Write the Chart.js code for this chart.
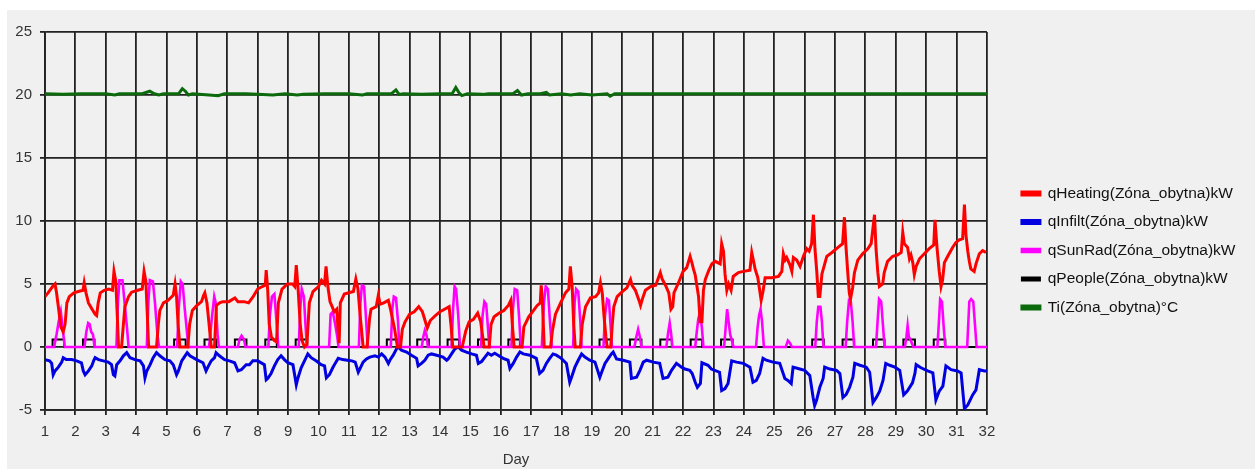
<!DOCTYPE html>
<html>
<head>
<meta charset="utf-8">
<script src="https://cdn.jsdelivr.net/npm/chart.js@4.4.1/dist/chart.umd.min.js"></script>
<style>
  html, body { margin: 0; padding: 0; background: #ffffff; }
  #wrap { position: relative; width: 1258px; height: 469px; overflow: hidden; }
  #panel { position: absolute; left: 7px; top: 10px; width: 1248px; height: 459px; background: #f0f0f0; }
  #c { position: absolute; left: 0; top: 0; }
</style>
</head>
<body>
<div id="wrap">
  <div id="panel"></div>
  <canvas id="c" width="1258" height="469"></canvas>
</div>
<script>
// Zone "obytna" – hourly simulation over one month, values as [day, value]
const seriesNames = [
  'qHeating(Zóna_obytna)kW',
  'qInfilt(Zóna_obytna)kW',
  'qSunRad(Zóna_obytna)kW',
  'qPeople(Zóna_obytna)kW',
  'Ti(Zóna_obytna)°C'
];

const dayTicks = [1, 32];          // day axis range
const valueTicks = [-5, 25, 5];    // value axis min, max, step

const qHeating = [
  [1.00,4.0],[1.10,4.3],[1.25,4.8],[1.33,5.0],[1.38,4.3],[1.45,3.0],[1.52,1.6],[1.60,1.2],[1.66,1.8],[1.72,3.5],
  [1.80,4.0],[1.95,4.3],[2.10,4.4],[2.25,4.5],[2.29,5.1],[2.35,4.3],[2.43,3.5],[2.55,3.0],[2.65,2.6],[2.70,2.5],
  [2.75,3.5],[2.82,4.3],[2.95,4.5],[3.10,4.6],[3.22,4.5],[3.27,6.0],[3.33,5.2],[3.38,2.4],[3.42,0],[3.52,0],
  [3.58,1.8],[3.63,3.2],[3.75,4.0],[3.85,4.35],[4.05,4.5],[4.20,4.6],[4.26,6.0],[4.32,5.2],[4.37,2.4],[4.41,0],
  [4.67,0],[4.73,1.8],[4.78,2.9],[4.90,3.5],[5.05,3.7],[5.22,4.1],[5.28,5.0],[5.33,4.0],[5.38,1.8],[5.44,0],
  [5.70,0],[5.76,1.8],[5.85,2.9],[6.00,3.3],[6.15,3.6],[6.22,4.1],[6.26,4.3],[6.33,3.5],[6.40,1.8],[6.47,0],
  [6.58,0],[6.64,3.3],[6.75,3.5],[6.85,3.6],[7.05,3.6],[7.25,3.9],[7.35,3.6],[7.55,3.6],[7.70,3.5],[7.85,4.0],
  [8.00,4.6],[8.15,4.8],[8.25,4.9],[8.28,6.1],[8.33,4.5],[8.38,1.8],[8.45,0.8],[8.55,0.5],[8.62,0.4],[8.68,3.5],
  [8.80,4.6],[8.98,5.0],[9.15,5.0],[9.22,4.8],[9.27,6.5],[9.33,4.6],[9.40,1.8],[9.46,0.5],[9.54,0],[9.62,0.2],
  [9.70,3.5],[9.82,4.4],[10.0,4.8],[10.1,5.3],[10.2,5.0],[10.25,6.4],[10.31,4.8],[10.38,3.6],[10.45,3.2],[10.52,2.8],
  [10.6,3.0],[10.64,1.6],[10.68,0.3],[10.72,3.5],[10.85,4.2],[11.0,4.3],[11.15,4.4],[11.23,5.4],[11.3,4.6],[11.38,2.3],
  [11.47,0],[11.6,0],[11.68,2.2],[11.73,3.0],[11.9,3.2],[11.97,4.1],[12.03,3.4],[12.15,3.5],[12.3,3.7],[12.38,2.9],
  [12.5,1.5],[12.6,0],[12.7,0],[12.76,1.4],[12.85,2.0],[13.0,2.6],[13.15,2.8],[13.3,3.2],[13.42,2.8],[13.52,2.0],
  [13.58,1.5],[13.68,2.1],[13.85,2.5],[14.0,2.8],[14.15,3.0],[14.3,3.2],[14.36,1.8],[14.42,0],[14.73,0],[14.85,1.3],
  [14.96,2.0],[15.1,2.2],[15.24,2.7],[15.34,2.0],[15.45,0],[15.62,0],[15.68,1.8],[15.78,2.4],[15.95,2.7],[16.1,2.9],
  [16.25,3.3],[16.33,3.7],[16.38,1.8],[16.44,0],[16.7,0],[16.76,1.6],[16.92,2.4],[17.08,2.9],[17.2,3.3],[17.3,3.5],
  [17.33,4.9],[17.37,3.7],[17.4,1.8],[17.43,0],[17.64,0],[17.7,1.3],[17.8,2.6],[17.97,3.5],[18.13,4.3],[18.24,4.6],
  [18.29,6.4],[18.35,4.8],[18.4,1.8],[18.45,0],[18.62,0],[18.68,1.8],[18.79,3.2],[18.95,3.9],[19.12,4.0],[19.22,4.3],
  [19.28,5.1],[19.34,4.3],[19.4,2.4],[19.46,0.8],[19.5,0],[19.62,0],[19.67,1.8],[19.72,3.2],[19.83,4.0],[20.0,4.4],
  [20.15,4.7],[20.27,5.35],[20.32,4.9],[20.43,4.5],[20.55,3.7],[20.6,3.3],[20.66,3.8],[20.76,4.5],[20.93,4.8],[21.1,4.9],
  [21.25,5.9],[21.31,5.4],[21.42,4.9],[21.53,4.3],[21.6,3.0],[21.66,3.2],[21.7,4.3],[21.85,5.1],[22.0,6.0],[22.12,6.3],
  [22.23,7.2],[22.29,6.7],[22.34,6.2],[22.4,5.7],[22.51,4.0],[22.56,2.0],[22.62,2.0],[22.67,4.5],[22.73,5.35],[22.84,6.05],
  [22.95,6.6],[23.06,6.8],[23.22,6.6],[23.27,8.2],[23.33,7.6],[23.38,5.8],[23.44,4.5],[23.5,5.0],[23.58,4.5],[23.65,5.6],
  [23.82,5.9],[23.99,6.0],[24.2,6.1],[24.26,7.5],[24.32,6.8],[24.37,6.2],[24.46,5.5],[24.57,3.7],[24.63,4.4],[24.7,5.5],
  [24.92,5.5],[25.14,5.6],[25.25,6.0],[25.3,7.4],[25.36,6.9],[25.41,7.1],[25.52,6.5],[25.58,6.0],[25.63,7.1],[25.74,6.9],
  [25.85,6.4],[25.96,7.2],[26.07,7.8],[26.15,7.6],[26.23,8.2],[26.29,10.5],[26.34,7.8],[26.4,6.0],[26.45,4.0],[26.5,4.0],
  [26.57,5.8],[26.73,7.2],[26.9,7.5],[27.1,7.9],[27.25,8.2],[27.31,10.3],[27.36,8.0],[27.42,5.9],[27.47,4.3],[27.51,3.8],
  [27.58,4.7],[27.64,5.9],[27.75,6.9],[27.91,7.4],[28.08,7.8],[28.19,8.2],[28.3,10.5],[28.35,7.8],[28.41,5.9],[28.46,4.8],
  [28.57,5.0],[28.62,5.9],[28.73,6.8],[28.9,7.2],[29.05,7.3],[29.18,7.5],[29.23,9.1],[29.28,8.2],[29.39,7.9],[29.45,7.0],
  [29.5,7.3],[29.56,6.7],[29.61,5.75],[29.67,6.4],[29.78,7.0],[29.94,7.4],[30.1,7.8],[30.25,8.1],[30.29,10.1],[30.36,7.8],
  [30.43,6.0],[30.49,4.8],[30.54,5.3],[30.6,6.7],[30.71,7.2],[30.87,7.9],[30.98,8.3],[31.09,8.5],[31.2,8.6],[31.26,11.3],
  [31.31,8.9],[31.37,7.6],[31.42,6.8],[31.47,6.2],[31.58,6.0],[31.64,6.6],[31.75,7.4],[31.86,7.65],[31.97,7.5],[32.0,7.5]
];

const qInfilt = [
  [1.0,-1.0],[1.15,-1.1],[1.22,-1.3],[1.27,-2.2],[1.33,-1.9],[1.44,-1.6],[1.55,-1.2],[1.6,-0.85],[1.7,-1.0],[1.88,-1.0],
  [2.04,-1.1],[2.2,-1.25],[2.26,-1.9],[2.32,-2.2],[2.43,-1.9],[2.54,-1.5],[2.6,-1.1],[2.65,-0.85],[2.76,-1.0],[2.92,-1.1],
  [3.08,-1.2],[3.19,-1.4],[3.25,-2.2],[3.3,-2.3],[3.36,-1.4],[3.47,-1.1],[3.58,-0.7],[3.69,-0.45],[3.8,-0.85],[3.96,-1.0],
  [4.13,-1.1],[4.24,-1.5],[4.29,-2.45],[4.35,-1.9],[4.46,-1.4],[4.56,-0.85],[4.67,-0.45],[4.78,-0.7],[4.95,-1.0],[5.11,-1.1],
  [5.22,-1.4],[5.33,-2.2],[5.39,-1.9],[5.5,-1.1],[5.61,-0.7],[5.68,-0.45],[5.77,-0.7],[5.99,-1.0],[6.2,-1.25],[6.3,-1.9],
  [6.36,-1.6],[6.47,-1.1],[6.58,-0.85],[6.63,-0.45],[6.74,-0.7],[6.91,-1.0],[7.07,-1.1],[7.24,-1.25],[7.35,-1.9],[7.46,-1.8],
  [7.62,-1.4],[7.73,-1.4],[7.84,-1.1],[8.0,-1.1],[8.22,-1.4],[8.28,-2.6],[8.33,-2.5],[8.44,-2.1],[8.55,-1.5],[8.66,-1.0],
  [8.77,-0.7],[8.88,-1.0],[8.99,-1.25],[9.16,-1.4],[9.27,-3.0],[9.32,-2.5],[9.43,-1.65],[9.54,-1.1],[9.65,-0.55],[9.76,-0.85],
  [9.92,-1.1],[10.09,-1.4],[10.2,-1.5],[10.26,-2.45],[10.36,-2.2],[10.47,-1.65],[10.55,-1.3],[10.65,-0.9],[10.8,-1.0],[10.95,-1.05],
  [11.1,-1.1],[11.21,-1.2],[11.31,-2.0],[11.36,-1.75],[11.47,-1.2],[11.58,-0.95],[11.69,-0.8],[11.86,-0.7],[11.97,-0.8],[12.08,-0.55],
  [12.19,-0.8],[12.3,-1.3],[12.35,-1.05],[12.46,-0.65],[12.57,-0.15],[12.62,0],[12.73,-0.25],[12.9,-0.4],[13.06,-0.65],[13.23,-0.9],
  [13.28,-1.5],[13.39,-1.3],[13.5,-1.05],[13.61,-0.65],[13.72,-0.55],[13.89,-0.65],[14.1,-0.8],[14.22,-1.05],[14.27,-0.95],[14.38,-0.55],
  [14.49,-0.15],[14.6,0],[14.71,-0.25],[14.87,-0.4],[15.04,-0.55],[15.2,-0.65],[15.26,-1.3],[15.37,-1.15],[15.48,-0.8],[15.58,-0.5],
  [15.69,-0.65],[15.8,-0.5],[15.91,-0.65],[16.08,-0.9],[16.24,-1.05],[16.3,-1.7],[16.41,-1.3],[16.52,-0.8],[16.63,-0.4],[16.74,-0.55],
  [16.96,-0.65],[17.17,-0.9],[17.28,-2.1],[17.39,-1.85],[17.5,-1.3],[17.61,-0.9],[17.72,-0.55],[17.83,-0.65],[17.99,-0.9],[18.16,-1.3],
  [18.27,-2.8],[18.33,-2.4],[18.44,-1.6],[18.55,-1.05],[18.66,-0.55],[18.77,-0.8],[18.93,-1.05],[19.1,-1.2],[19.26,-2.4],[19.32,-2.0],
  [19.43,-1.3],[19.53,-0.95],[19.64,-0.55],[19.7,-0.4],[19.81,-0.95],[20.03,-1.05],[20.25,-1.2],[20.3,-2.5],[20.47,-2.4],[20.58,-1.85],
  [20.69,-1.2],[20.8,-1.05],[21.02,-1.2],[21.23,-1.3],[21.34,-2.5],[21.5,-2.4],[21.62,-1.85],[21.78,-1.3],[21.95,-1.6],[22.06,-1.75],
  [22.22,-1.85],[22.3,-2.1],[22.4,-2.8],[22.47,-3.2],[22.57,-2.9],[22.62,-1.25],[22.82,-1.45],[22.93,-1.75],[23.04,-1.85],[23.2,-2.0],
  [23.27,-3.45],[23.38,-3.3],[23.48,-2.9],[23.6,-1.1],[23.76,-1.2],[23.98,-1.3],[24.2,-1.6],[24.3,-2.8],[24.41,-2.65],[24.52,-2.1],
  [24.63,-0.9],[24.74,-1.05],[24.96,-1.2],[25.18,-1.3],[25.35,-2.5],[25.45,-2.65],[25.56,-2.9],[25.62,-1.6],[25.84,-1.75],[26.0,-1.85],
  [26.17,-2.25],[26.28,-4.0],[26.33,-4.65],[26.39,-4.25],[26.5,-3.2],[26.61,-2.5],[26.66,-1.6],[26.83,-1.75],[27.05,-1.85],[27.16,-2.1],
  [27.26,-4.0],[27.37,-3.75],[27.48,-3.2],[27.59,-2.4],[27.65,-1.3],[27.82,-1.45],[28.03,-1.6],[28.14,-2.0],[28.25,-4.4],[28.36,-4.0],
  [28.47,-3.5],[28.58,-2.65],[28.67,-1.3],[28.8,-1.45],[28.97,-1.6],[29.13,-1.85],[29.26,-3.8],[29.38,-3.5],[29.55,-2.85],[29.63,-2.1],
  [29.67,-1.4],[29.83,-1.65],[30.05,-1.9],[30.22,-2.05],[30.32,-4.2],[30.43,-3.5],[30.55,-3.1],[30.65,-1.5],[30.82,-1.8],[31.03,-1.9],
  [31.15,-2.05],[31.26,-4.9],[31.37,-4.6],[31.53,-3.8],[31.64,-3.4],[31.75,-1.8],[31.92,-1.9],[32.0,-1.9]
];

const qSunRad = [
  [1,0],[1.3,0],[1.38,1.0],[1.45,2.0],[1.52,2.8],[1.58,1.5],[1.65,0],
  [2.3,0],[2.36,1.2],[2.42,1.9],[2.47,1.8],[2.52,1.2],[2.58,1.0],[2.63,0],
  [3.35,0],[3.4,3.5],[3.45,5.3],[3.55,5.3],[3.62,3.5],[3.7,1.5],[3.75,0],
  [4.35,0],[4.4,3.5],[4.45,5.3],[4.55,5.2],[4.62,3.5],[4.7,1.0],[4.75,0],
  [5.35,0],[5.4,3.0],[5.47,5.2],[5.53,5.0],[5.6,3.0],[5.68,1.0],[5.72,0],
  [6.4,0],[6.5,2.5],[6.57,4.0],[6.62,3.5],[6.68,1.0],[6.72,0],
  [7.35,0],[7.4,0.6],[7.47,0.9],[7.55,0.6],[7.6,0],
  [8.35,0],[8.4,2.5],[8.47,4.0],[8.55,4.2],[8.62,2.0],[8.68,0],
  [9.35,0],[9.4,3.0],[9.45,4.6],[9.52,4.0],[9.58,1.5],[9.62,0],
  [10.35,0],[10.4,2.6],[10.47,2.8],[10.55,1.8],[10.62,0.8],[10.66,0],
  [11.33,0],[11.38,3.5],[11.43,4.9],[11.5,4.8],[11.56,2.5],[11.62,0],
  [12.38,0],[12.43,3.0],[12.48,4.0],[12.55,3.9],[12.62,2.0],[12.66,0],
  [13.4,0],[13.45,0.8],[13.5,1.3],[13.56,0.9],[13.6,0],
  [14.38,0],[14.43,3.0],[14.48,4.8],[14.53,4.6],[14.6,2.5],[14.66,0],
  [15.35,0],[15.4,2.5],[15.46,3.6],[15.52,3.4],[15.58,1.5],[15.62,0],
  [16.35,0],[16.4,3.0],[16.46,4.6],[16.54,4.5],[16.6,2.5],[16.66,0],
  [17.35,0],[17.42,3.5],[17.48,4.8],[17.55,4.6],[17.62,2.0],[17.68,0],
  [18.38,0],[18.43,3.5],[18.48,4.6],[18.55,4.4],[18.62,2.0],[18.66,0],
  [19.38,0],[19.43,2.5],[19.5,3.8],[19.56,3.7],[19.62,1.5],[19.66,0],
  [20.4,0],[20.46,0.8],[20.52,1.4],[20.58,0.8],[20.63,0],
  [21.45,0],[21.5,1.0],[21.56,1.9],[21.6,1.2],[21.65,0],
  [22.4,0],[22.45,1.2],[22.5,2.2],[22.56,2.8],[22.62,1.5],[22.67,0],
  [23.35,0],[23.4,1.5],[23.45,3.0],[23.5,2.0],[23.55,1.0],[23.62,0.4],[23.66,0],
  [24.4,0],[24.45,1.5],[24.5,2.5],[24.55,3.0],[24.6,2.0],[24.66,0],
  [25.38,0],[25.45,0.5],[25.52,0.3],[25.58,0],
  [26.35,0],[26.4,2.0],[26.45,3.2],[26.52,3.2],[26.57,2.0],[26.62,0],
  [27.35,0],[27.4,2.0],[27.46,3.7],[27.52,3.6],[27.58,2.0],[27.63,0],
  [28.35,0],[28.4,2.0],[28.45,3.8],[28.52,3.6],[28.57,2.0],[28.63,0],
  [29.3,0],[29.35,0.8],[29.39,1.7],[29.43,0.8],[29.48,0.6],[29.53,0.3],[29.58,0],
  [30.37,0],[30.42,2.0],[30.46,3.8],[30.52,3.6],[30.58,1.5],[30.63,0],
  [31.35,0],[31.42,3.6],[31.48,3.8],[31.55,3.6],[31.6,2.0],[31.66,0],[32,0]
];

// occupancy gains: a flat block on working days
const qPeople = [
  [1,0],[1.25,0],[1.25,0.6],[1.63,0.6],[1.63,0],
  [2.25,0],[2.25,0.6],[2.63,0.6],[2.63,0],
  [5.25,0],[5.25,0.6],[5.63,0.6],[5.63,0],
  [6.25,0],[6.25,0.6],[6.63,0.6],[6.63,0],
  [7.25,0],[7.25,0.6],[7.63,0.6],[7.63,0],
  [8.25,0],[8.25,0.6],[8.63,0.6],[8.63,0],
  [9.25,0],[9.25,0.6],[9.63,0.6],[9.63,0],
  [12.25,0],[12.25,0.6],[12.63,0.6],[12.63,0],
  [13.25,0],[13.25,0.6],[13.63,0.6],[13.63,0],
  [14.25,0],[14.25,0.6],[14.63,0.6],[14.63,0],
  [15.25,0],[15.25,0.6],[15.63,0.6],[15.63,0],
  [16.25,0],[16.25,0.6],[16.63,0.6],[16.63,0],
  [19.25,0],[19.25,0.6],[19.63,0.6],[19.63,0],
  [20.25,0],[20.25,0.6],[20.63,0.6],[20.63,0],
  [21.25,0],[21.25,0.6],[21.63,0.6],[21.63,0],
  [22.25,0],[22.25,0.6],[22.63,0.6],[22.63,0],
  [23.25,0],[23.25,0.6],[23.63,0.6],[23.63,0],
  [26.25,0],[26.25,0.6],[26.63,0.6],[26.63,0],
  [27.25,0],[27.25,0.6],[27.63,0.6],[27.63,0],
  [28.25,0],[28.25,0.6],[28.63,0.6],[28.63,0],
  [29.25,0],[29.25,0.6],[29.63,0.6],[29.63,0],
  [30.25,0],[30.25,0.6],[30.63,0.6],[30.63,0],
  [32,0]
];

const tiZone = [
  [1,20.1],[1.6,20.05],[2.2,20.1],[3.0,20.1],[3.3,20.0],[3.45,20.1],[4.2,20.1],[4.45,20.3],[4.6,20.1],[4.75,20.0],
  [4.9,20.1],[5.4,20.1],[5.52,20.5],[5.62,20.3],[5.72,20.0],[5.85,20.1],[6.4,20.0],[6.7,19.95],[6.9,20.1],[7.6,20.1],
  [8.0,20.05],[8.5,20.0],[8.9,20.1],[9.3,20.0],[9.5,20.05],[10.2,20.1],[11.0,20.1],[11.45,20.0],[11.6,20.1],[12.4,20.1],
  [12.55,20.4],[12.65,20.05],[12.8,20.1],[13.4,20.05],[14.0,20.1],[14.4,20.1],[14.52,20.6],[14.62,20.2],[14.72,19.95],[14.9,20.1],
  [15.4,20.05],[15.6,20.1],[16.4,20.1],[16.55,20.35],[16.68,20.0],[16.9,20.1],[17.3,20.1],[17.5,20.2],[17.6,20.0],[18.0,20.1],
  [18.3,20.0],[18.6,20.1],[19.0,20.0],[19.5,20.1],[19.6,19.9],[19.75,20.1],[20.5,20.1],[21.5,20.1],[22.5,20.1],[23.5,20.1],
  [24.5,20.1],[25.5,20.1],[26.5,20.1],[27.5,20.1],[28.5,20.1],[29.5,20.1],[30.5,20.1],[31.5,20.1],[32,20.1]
];

const seriesColors = ['#ff0000', '#0000e0', '#ff00ff', '#000000', '#0b6a0b'];

const toPoints = arr => arr.map(([x, y]) => ({ x, y }));
const lineSet = (i, arr, width) => ({
  label: seriesNames[i],
  data: toPoints(arr),
  borderColor: seriesColors[i],
  backgroundColor: seriesColors[i],
  borderWidth: width,
  pointRadius: 0,
  tension: 0,
  fill: false
});

const tickFont = { family: "'Liberation Sans', Arial, sans-serif", size: 15 };
const textColor = '#333333';
const gridColor = '#222222';

new Chart(document.getElementById('c'), {
  type: 'line',
  data: {
    datasets: [
      lineSet(0, qHeating, 3),
      lineSet(1, qInfilt, 3),
      lineSet(2, qSunRad, 2.6),
      lineSet(3, qPeople, 2),
      lineSet(4, tiZone, 3)
    ]
  },
  options: {
    responsive: false,
    animation: false,
    events: [],
    layout: { padding: { left: 0, top: 32, right: 12.5, bottom: 0 } },
    scales: {
      x: {
        type: 'linear',
        min: dayTicks[0],
        max: dayTicks[1],
        ticks: { stepSize: 1, autoSkip: false, maxRotation: 0, font: tickFont, color: textColor, padding: 8 },
        grid: { color: gridColor, lineWidth: 1.8, tickLength: 5 },
        border: { color: gridColor, width: 1.8 },
        title: { display: true, text: 'Day', font: tickFont, color: textColor, padding: 0 },
        afterFit: s => { s.height = 59; }
      },
      y: {
        type: 'linear',
        min: valueTicks[0],
        max: valueTicks[1],
        ticks: { stepSize: valueTicks[2], font: tickFont, color: textColor, padding: 8 },
        grid: { color: gridColor, lineWidth: 1.8, tickLength: 5 },
        border: { color: gridColor, width: 1.8 },
        afterFit: s => { s.width = 45; }
      },
      // spacer between plot and legend
      gap: {
        type: 'linear',
        position: 'right',
        display: true,
        grid: { display: false },
        ticks: { display: false },
        border: { display: false },
        afterFit: s => { s.width = 22; }
      }
    },
    plugins: {
      legend: {
        position: 'right',
        align: 'center',
        maxWidth: 300,
        labels: {
          boxWidth: 18,
          boxHeight: 3,
          padding: 13,
          color: '#111111',
          font: { family: "'Liberation Sans', Arial, sans-serif", size: 15.5 }
        }
      },
      tooltip: { enabled: false }
    }
  }
});
</script>
</body>
</html>
